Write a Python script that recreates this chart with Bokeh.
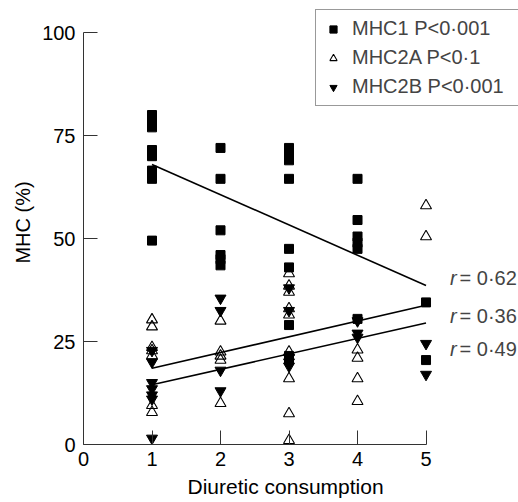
from bokeh.plotting import figure
from bokeh.models import FixedTicker, Legend, LegendItem, Label, Title
from bokeh.embed import file_html
from bokeh.resources import INLINE

# ---- data ----
mhc1_dose = [1, 1, 1, 1, 1, 1, 1, 1,
             2, 2, 2, 2, 2, 2,
             3, 3, 3, 3, 3, 3, 3, 3, 3,
             4, 4, 4, 4, 4, 4,
             5, 5]
mhc1_pct = [80, 78.5, 77, 71.5, 70, 66.5, 64.5, 49.5,
            72, 64.5, 52, 46, 45, 43.5,
            72, 70.5, 69, 64.5, 47.5, 43, 29, 21.5, 20.5,
            64.5, 54.5, 50.5, 49, 47.5, 30.5,
            34.5, 20.5]

mhc2a_dose = [1, 1, 1, 1, 1, 1, 1,
              2, 2, 2, 2, 2,
              3, 3, 3, 3, 3, 3, 3, 3, 3,
              4, 4, 4, 4,
              5, 5]
mhc2a_pct = [30.3, 28.6, 23.6, 22.8, 21.6, 9.5, 7.8,
             30, 22.5, 21.5, 20.5, 10,
             41.5, 38.5, 37, 33, 31.5, 22.5, 16, 7.5, 1,
             23, 21, 16, 10.5,
             58, 50.5]

mhc2b_dose = [1, 1, 1, 1, 1, 1, 1,
              2, 2, 2, 2,
              3, 3, 3, 3, 3,
              4, 4, 4,
              5, 5]
mhc2b_pct = [22.8, 20, 15, 13.5, 12, 11, 1.5,
             35.5, 32.5, 18, 13,
             38, 32.5, 21, 20, 19,
             30, 27, 26,
             24.5, 17]

fit_dose = [1, 5]
mhc1_fit = [68, 38.6]
mhc2a_fit = [18.5, 33.8]
mhc2b_fit = [14.5, 29.5]

series_labels = ["MHC1 P<0\u00b7001", "MHC2A P<0\u00b71", "MHC2B P<0\u00b7001"]
r_values = ["0\u00b762", "0\u00b736", "0\u00b749"]
x_ticks = [0, 1, 2, 3, 4, 5]
y_ticks = [0, 25, 50, 75, 100]

FONT = "Liberation Sans"
FS = "20px"

p = figure(width=518, height=502, output_backend="svg", toolbar_location=None,
           x_range=(0, 6.35), y_range=(0, 107.8),
           min_border_left=83, min_border_right=0, min_border_top=0, min_border_bottom=58)
p.outline_line_color = None
p.xgrid.visible = False
p.ygrid.visible = False
p.background_fill_color = "white"

# regression lines
for fit in (mhc1_fit, mhc2a_fit, mhc2b_fit):
    p.line(fit_dose, fit, line_color="black", line_width=1.6)

r1 = p.scatter(mhc1_dose, mhc1_pct, marker="square", size=9,
               fill_color="black", line_color="black")
r2 = p.scatter(mhc2a_dose, mhc2a_pct, marker="triangle", size=11,
               fill_color="white", fill_alpha=0.0, line_color="black", line_width=1.1)
r3 = p.scatter(mhc2b_dose, mhc2b_pct, marker="inverted_triangle", size=11,
               fill_color="black", line_color="black")

legend = Legend(items=[LegendItem(label=series_labels[0], renderers=[r1]),
                       LegendItem(label=series_labels[1], renderers=[r2]),
                       LegendItem(label=series_labels[2], renderers=[r3])],
                location=(232, 338), orientation="vertical",
                label_text_font=FONT, label_text_font_size=FS,
                label_text_line_height=1.0,
                glyph_width=20, glyph_height=18, label_standoff=9,
                label_height=18, label_width=170, spacing=6, padding=7, margin=0,
                border_line_color="#333333", border_line_width=1,
                background_fill_alpha=1.0)
p.add_layout(legend, "center")

# r labels
label_y = [40.5, 31.3, 23.3]
for rv, ly in zip(r_values, label_y):
    p.add_layout(Label(x=5.35, y=ly, text="r", text_font=FONT, text_font_size=FS,
                       text_font_style="italic", text_baseline="middle"))
    p.add_layout(Label(x=5.49, y=ly, text="= " + rv, text_font=FONT, text_font_size=FS,
                       text_baseline="middle"))

# axes
xa = p.xaxis[0]
xa.bounds = (0, 5)
xa.ticker = FixedTicker(ticks=x_ticks)
xa.major_tick_in = 14
xa.major_tick_out = 0
xa.minor_tick_line_color = None
xa.axis_line_color = "#333333"
xa.major_tick_line_color = "#333333"
xa.major_label_text_font = FONT
xa.major_label_text_font_size = FS
xa.major_label_text_color = "black"
xa.major_label_standoff = 7
xa.axis_label = None

p.add_layout(Title(text="Diuretic consumption", align="left", offset=104,
                   text_font=FONT, text_font_size="21px", text_font_style="normal",
                   text_color="black", standoff=8), "below")

ya = p.yaxis[0]
ya.bounds = (0, 100)
ya.ticker = FixedTicker(ticks=y_ticks)
ya.major_tick_in = 14
ya.major_tick_out = 0
ya.minor_tick_line_color = None
ya.axis_line_color = "#333333"
ya.major_tick_line_color = "#333333"
ya.major_label_text_font = FONT
ya.major_label_text_font_size = FS
ya.major_label_text_color = "black"
ya.major_label_standoff = 8
ya.axis_label = "MHC (%)"
ya.axis_label_text_font = FONT
ya.axis_label_text_font_size = FS
ya.axis_label_text_font_style = "normal"
ya.axis_label_text_color = "black"
ya.axis_label_standoff = 5

open("out.html", "w").write(file_html(p, INLINE))
